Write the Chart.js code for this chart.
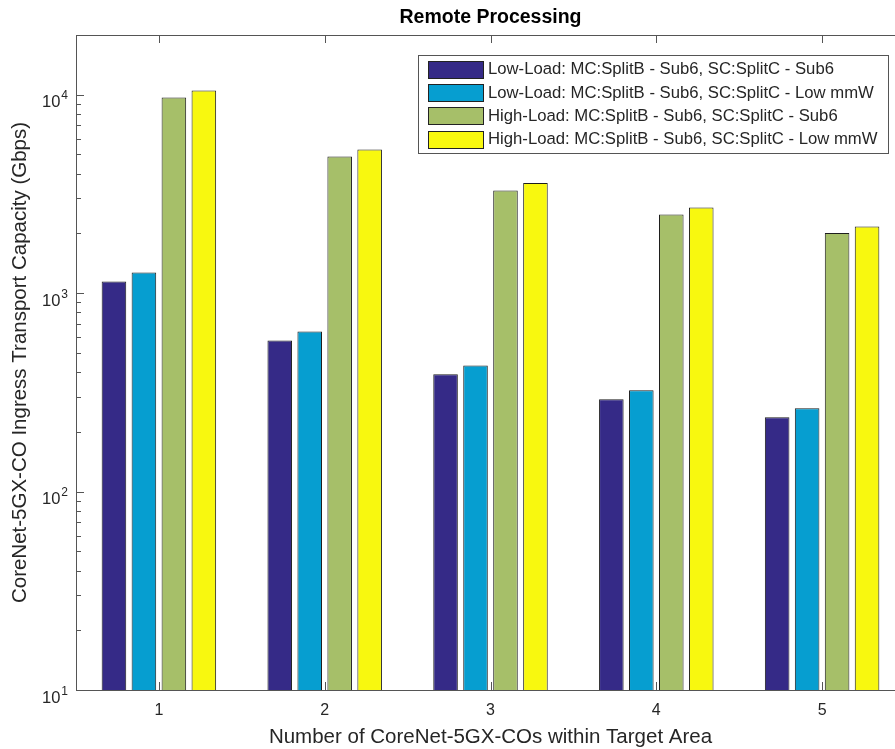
<!DOCTYPE html>
<html>
<head>
<meta charset="utf-8">
<title>Remote Processing</title>
<script src="https://cdn.jsdelivr.net/npm/chart.js@4/dist/chart.umd.min.js"></script>
<style>
  html, body { margin: 0; padding: 0; overflow: hidden; background: #fff; }
  #wrap { width: 920px; height: 749px; }
</style>
</head>
<body>
<div id="wrap"><canvas id="chart" width="920" height="749"></canvas></div>
<script>
  "use strict";

  // values (log axis, Gbps)
  const categories = ["1", "2", "3", "4", "5"];
  const lowSub6 = [1144, 577, 390, 292, 237];
  const lowMmw = [1270, 640, 432, 324, 263];
  const highSub6 = [9686, 4885, 3289, 2489, 2007];
  const highMmw = [10512, 5295, 3588, 2702, 2168];

  const seriesLabels = [
    "Low-Load: MC:SplitB - Sub6, SC:SplitC - Sub6",
    "Low-Load: MC:SplitB - Sub6, SC:SplitC - Low mmW",
    "High-Load: MC:SplitB - Sub6, SC:SplitC - Sub6",
    "High-Load: MC:SplitB - Sub6, SC:SplitC - Low mmW",
  ];
  const seriesColors = ["#352a87", "#069ed0", "#a6bf69", "#f8f80f"];
  const majorTicks = [10, 100, 1000, 10000];
  const exponents = ["1", "2", "3", "4"];

  const FONT = "'Liberation Sans', Arial, Helvetica, sans-serif";
  const TEXT = "#262626";
  const AXIS = "#555555";

  // MATLAB-ish box, inward ticks, superscript labels, title and legend
  const matlabAxes = {
    id: "matlabAxes",
    beforeDatasetsDraw(chart) {
      const { ctx, chartArea: a, scales } = chart;
      ctx.save();
      ctx.strokeStyle = AXIS;
      ctx.lineWidth = 1;
      ctx.beginPath();
      // category ticks, bottom (up) and top (down)
      categories.forEach((c, i) => {
        const x = Math.round(scales.x.getPixelForValue(i)) + 0.5;
        ctx.moveTo(x, a.bottom); ctx.lineTo(x, a.bottom - 8);
        ctx.moveTo(x, a.top); ctx.lineTo(x, a.top + 8);
      });
      // log ticks on the left
      for (let d = 10; d <= 10000; d *= 10) {
        for (let m = 1; m <= 9; m++) {
          const v = d * m;
          if (v > scales.y.max) continue;
          const y = Math.round(scales.y.getPixelForValue(v)) + 0.5;
          const len = m === 1 ? 8 : 5;
          ctx.moveTo(a.left, y); ctx.lineTo(a.left + len, y);
        }
      }
      ctx.stroke();
      ctx.restore();
    },
    afterDatasetsDraw(chart) {
      const { ctx, chartArea: a, scales } = chart;
      ctx.save();
      ctx.strokeStyle = AXIS;
      ctx.lineWidth = 1;
      ctx.strokeRect(Math.round(a.left) + 0.5, Math.round(a.top) + 0.5,
        Math.round(a.right - a.left), Math.round(a.bottom - a.top));

      // y tick labels 10^k
      ctx.fillStyle = TEXT;
      ctx.textAlign = "right";
      ctx.textBaseline = "alphabetic";
      majorTicks.forEach((v, i) => {
        const y = scales.y.getPixelForValue(v);
        ctx.font = "12px " + FONT;
        ctx.fillText(exponents[i], a.left - 8, y + 4.5);
        const ew = ctx.measureText(exponents[i]).width;
        ctx.font = "16.5px " + FONT;
        ctx.fillText("10", a.left - 9 - ew, y + 12.5);
      });

      // title
      ctx.font = "bold 19.5px " + FONT;
      ctx.textAlign = "center";
      ctx.textBaseline = "middle";
      ctx.fillStyle = "#000";
      ctx.fillText("Remote Processing", (a.left + a.right) / 2, 18);

      // legend
      const lx = 418.5, ly = 55.5, lw = 470, lh = 98;
      ctx.fillStyle = "#fff";
      ctx.fillRect(lx, ly, lw, lh);
      ctx.strokeStyle = AXIS;
      ctx.strokeRect(lx, ly, lw, lh);
      ctx.font = "16.7px " + FONT;
      ctx.textAlign = "left";
      chart.data.datasets.forEach((ds, i) => {
        const cy = 68.5 + i * 23.4;
        ctx.fillStyle = ds.backgroundColor;
        ctx.fillRect(428.5, Math.round(cy - 8) + 0.5, 55, 17);
        ctx.strokeStyle = "#222";
        ctx.strokeRect(428.5, Math.round(cy - 8) + 0.5, 55, 17);
        ctx.fillStyle = TEXT;
        ctx.fillText(ds.label, 488, cy + 1);
      });
      ctx.restore();
    },
  };

  const series = [lowSub6, lowMmw, highSub6, highMmw];

  new Chart(document.getElementById("chart"), {
    type: "bar",
    data: {
      labels: categories,
      datasets: series.map((data, i) => ({
        label: seriesLabels[i],
        data,
        backgroundColor: seriesColors[i],
        borderColor: "#1e1e1e",
        borderWidth: 1,
        borderSkipped: "start",
        categoryPercentage: 0.723,
        barPercentage: 0.82,
      })),
    },
    options: {
      responsive: false,
      animation: false,
      devicePixelRatio: 1,
      layout: { padding: { top: 35, right: 15, bottom: 0, left: 0 } },
      plugins: {
        legend: { display: false },
        title: { display: false },
        tooltip: { enabled: false },
      },
      scales: {
        x: {
          type: "category",
          offset: true,
          grid: { display: false, drawTicks: false },
          border: { display: false },
          ticks: { color: TEXT, padding: 11, font: { family: FONT, size: 16 } },
          title: {
            display: true,
            text: "Number of CoreNet-5GX-COs within Target Area",
            color: TEXT,
            font: { family: FONT, size: 20.5 },
            padding: { top: 0, bottom: -1 },
          },
          afterFit(s) { s.height = 59; },
        },
        y: {
          type: "logarithmic",
          min: 10,
          max: 20000,
          grid: { display: false, drawTicks: false },
          border: { display: false },
          ticks: { display: false },
          afterBuildTicks(s) { s.ticks = majorTicks.map((v) => ({ value: v, major: true })); },
          title: {
            display: true,
            text: "CoreNet-5GX-CO Ingress Transport Capacity (Gbps)",
            color: TEXT,
            font: { family: FONT, size: 20.5 },
            padding: { top: 8, bottom: 0 },
          },
          afterFit(s) { s.width = 76; },
        },
      },
    },
    plugins: [matlabAxes],
  });
</script>
</body>
</html>
